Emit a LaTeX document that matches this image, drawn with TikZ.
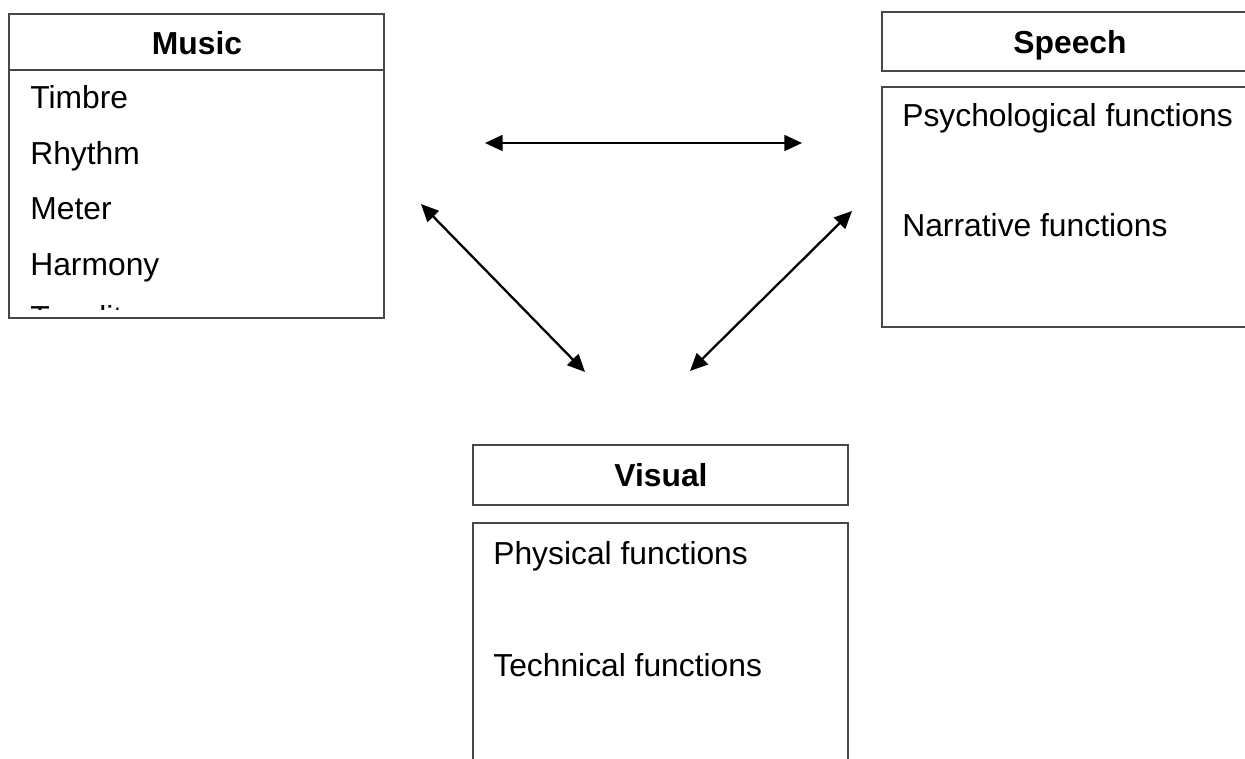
\documentclass[tikz,border=0pt]{standalone}
\usepackage{fontspec}
\setmainfont{Liberation Sans}
\usetikzlibrary{arrows.meta,positioning}

\begin{document}
\begin{tikzpicture}[x=0.02cm,y=-0.02cm,
  frame/.style={draw=black!72,line width=0.6pt},
  head/.style={font=\fontsize{18.1}{22}\selectfont\bfseries,anchor=base,inner sep=0pt},
  item/.style={font=\fontsize{18.1}{22}\selectfont,anchor=base west,inner sep=0pt},
  link/.style={{Triangle[length=10pt,width=9pt]}-{Triangle[length=10pt,width=9pt]},line width=1.3pt}]
  \useasboundingbox (0,0) rectangle (1245,759);
  \clip (0,0) rectangle (1245,759);
  % music box
  \draw[frame] (9,14) rectangle (384,318);
  \draw[frame] (9,70) -- (384,70);
  \node[head] (music) at (197,55) {Music};
  \node[item] (timbre) at (30,109) {Timbre};
  \node[item] (rhythm) at (30,165) {Rhythm};
  \node[item] (meter) at (30,220) {Meter};
  \node[item] (harmony) at (30,276) {Harmony};
  \begin{scope}
    \clip (9,14) rectangle (384,310);
    \node[item] (tonality) at (30,329) {Tonality};
  \end{scope}
  % speech box
  \draw[frame] (882,12) rectangle (1258,71);
  \draw[frame] (882,87) rectangle (1258,327);
  \node[head] (speech) at (1070,54) {Speech};
  \node[item] (psych) at (902,127) {Psychological functions};
  \node[item] (narr) at (902,237) {Narrative functions};
  % visual box
  \draw[frame] (473,445) rectangle (848,505);
  \draw[frame] (473,775) -- (473,523) -- (848,523) -- (848,775);
  \node[head] (visual) at (661,487) {Visual};
  \node[item] (phys) at (493,565) {Physical functions};
  \node[item] (tech) at (493,677) {Technical functions};
  % links
  \coordinate (ms) at (485,143);
  \coordinate (sm) at (802,143);
  \coordinate (mv) at (421,204);
  \coordinate (vm) at (585,372);
  \coordinate (sv) at (852,211);
  \coordinate (vs) at (690,371);
  \draw[link] (ms) -- (sm);
  \draw[link] (mv) -- (vm);
  \draw[link] (sv) -- (vs);
\end{tikzpicture}
\end{document}
